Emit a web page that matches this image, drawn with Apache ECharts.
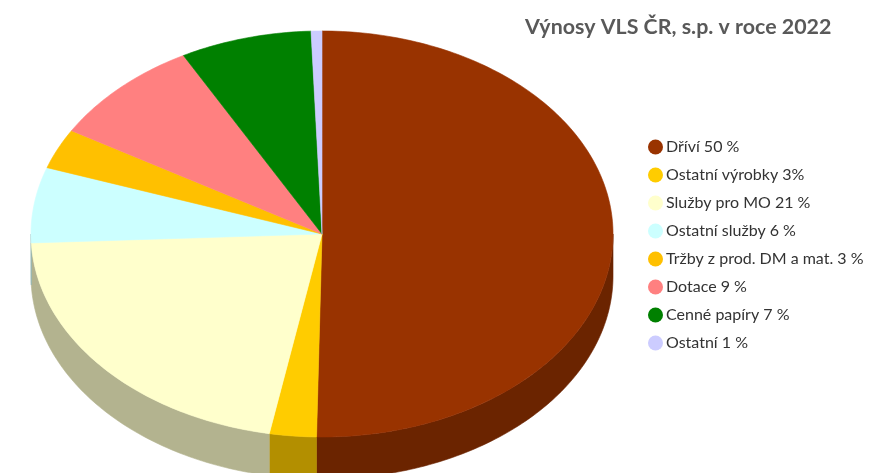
<!DOCTYPE html>
<html>
<head>
<meta charset="utf-8">
<script src="https://cdn.jsdelivr.net/npm/echarts@6/dist/echarts.min.js"></script>
<style>
  html, body { margin: 0; padding: 0; background: #fff; }
  #chart { width: 871px; height: 473px; }
</style>
</head>
<body>
<div id="chart"></div>
<script>
// kategorie (legenda) a podíly
const names = ['Dříví 50 %', 'Ostatní výrobky 3%', 'Služby pro MO 21 %', 'Ostatní služby 6 %',
  'Tržby z prod. DM a mat. 3 %', 'Dotace 9 %', 'Cenné papíry 7 %', 'Ostatní 1 %'];
const values = [50.3, 2.6, 21.4, 6.0, 3.2, 8.6, 7.3, 0.6];
const colors = ['#993300', '#FFCC00', '#FFFFCC', '#CCFFFF', '#FFC000', '#FF8080', '#008000', '#CCCCFF'];

// tmavší barva boku koláče
function darken(hex, f) {
  const n = parseInt(hex.slice(1), 16);
  const r = Math.round(((n >> 16) & 255) * f), g = Math.round(((n >> 8) & 255) * f), b = Math.round((n & 255) * f);
  return 'rgb(' + r + ',' + g + ',' + b + ')';
}

const total = values.reduce((a, b) => a + b, 0);
const starts = [];
let acc = 0;
values.forEach(v => { starts.push(acc / total * 360); acc += v; });

// geometrie "3D" koláče (elipsa + hloubka)
const geo = { cx: 0.3697, cy: 0.4947, rx: 291, ry: 203, depth: 42 };

function pt(api, deg, dy) {
  const r = deg * Math.PI / 180;
  const cx = api.getWidth() * geo.cx, cy = api.getHeight() * geo.cy;
  return [cx + geo.rx * Math.sin(r), cy - geo.ry * Math.cos(r) + (dy || 0)];
}
function arc(api, a0, a1, dy) {
  const pts = [];
  const n = Math.max(2, Math.ceil(Math.abs(a1 - a0)));
  for (let k = 0; k <= n; k++) pts.push(pt(api, a0 + (a1 - a0) * k / n, dy));
  return pts;
}

function renderTop(params, api) {
  const i = params.dataIndex;
  const a0 = starts[i], a1 = a0 + api.value(0) / total * 360;
  const cx = api.getWidth() * geo.cx, cy = api.getHeight() * geo.cy;
  const pts = [[cx, cy]].concat(arc(api, a0, a1, 0));
  return {
    type: 'polygon',
    shape: { points: pts },
    style: { fill: colors[i], stroke: colors[i], lineWidth: 0.6 }
  };
}

function renderSide(params, api) {
  const i = params.dataIndex;
  const s = starts[i], e = s + api.value(0) / total * 360;
  const a0 = Math.max(s, 90), a1 = Math.min(e, 270);
  if (a0 >= a1) return { type: 'group', children: [] };
  const pts = arc(api, a0, a1, 0).concat(arc(api, a1, a0, geo.depth));
  const c = darken(colors[i], 0.7);
  return {
    type: 'polygon',
    shape: { points: pts },
    style: { fill: c, stroke: c, lineWidth: 0.6 }
  };
}

const chart = echarts.init(document.getElementById('chart'));
chart.setOption({
  animation: false,
  title: {
    text: 'Výnosy VLS ČR, s.p. v roce 2022',
    left: 520, top: 12,
    textStyle: { fontFamily: 'Lato', fontSize: 21.4, fontWeight: 'bold', color: '#595959' }
  },
  legend: {
    orient: 'vertical',
    left: 643, top: 134,
    icon: 'circle',
    itemWidth: 15, itemHeight: 15, itemGap: 12,
    itemStyle: { borderWidth: 0 },
    selectedMode: false,
    data: names,
    textStyle: { fontFamily: 'Lato', fontSize: 16, color: '#333333', padding: [0, 0, 0, -2] }
  },
  series: [
    {
      type: 'custom', name: 'bok', coordinateSystem: 'none', silent: true, z: 1,
      data: values, renderItem: renderSide
    },
    {
      type: 'custom', name: 'vrch', coordinateSystem: 'none', silent: true, z: 2,
      data: values, renderItem: renderTop
    },
    {
      // jen pro legendu
      type: 'pie', radius: [0, 0], silent: true, label: { show: false }, labelLine: { show: false },
      data: names.map((n, i) => ({ name: n, value: values[i], itemStyle: { color: colors[i] } }))
    }
  ]
});
</script>
</body>
</html>
